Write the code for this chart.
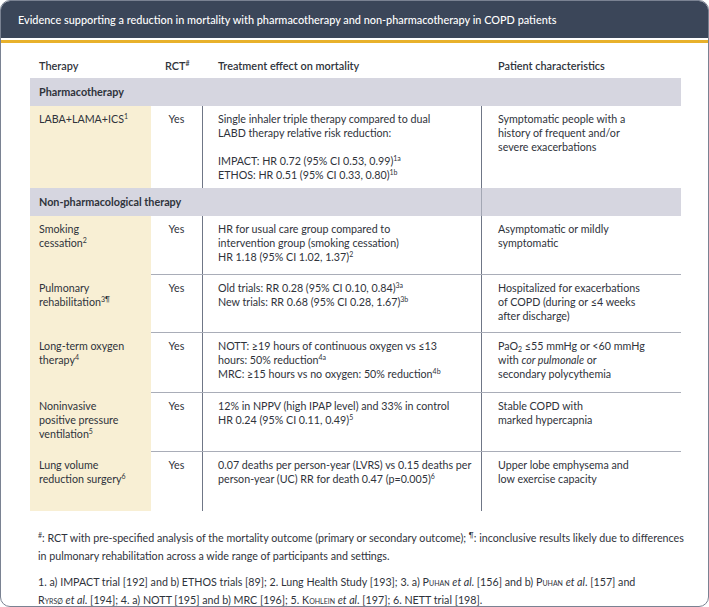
<!DOCTYPE html>
<html>
<head>
<meta charset="utf-8">
<script src="https://cdn.jsdelivr.net/npm/chart.js@4.4.1/dist/chart.umd.min.js"></script>
<style>
  html, body { margin: 0; padding: 0; background: #fff; }
  body { width: 709px; height: 607px; font-family: "Lato", "Noto Sans", sans-serif; color: #2f333b; }
  #frame { position: absolute; left: 0; top: 0; width: 707px; height: 605px; border: 1px solid #7a8292; border-radius: 10px; overflow: hidden; }
  #head { position: absolute; left: 0; top: 0; width: 100%; height: 37px; background: #3b4659; color: #fff; font-size: 10.9px; font-weight: 500; line-height: 37px; padding-left: 17px; box-sizing: border-box; }
  #gold { position: absolute; left: 0; top: 39px; width: 100%; height: 3px; background: #e8b12b; }
  #tbl { position: absolute; left: 29px; top: 50px; width: 651px; }
  .row { position: relative; width: 651px; }
  .cell { position: absolute; top: 0; box-sizing: border-box; font-size: 10.7px; line-height: 14px; padding-top: 6px; }
  .c0 { left: 0; width: 121px; padding-left: 9px; }
  .c1 { left: 121px; width: 51px; text-align: center; }
  .c2 { left: 172px; width: 279px; padding-left: 16px; }
  .c3 { left: 451px; width: 200px; padding-left: 17px; }
  .hdr .cell { font-weight: 600; font-size: 10.9px; padding-top: 8px; }
  .hdr .c1 { text-align: left; padding-left: 14px; }
  .sec { background: #d6d6e0; font-weight: 700; font-size: 10.8px; line-height: 28px; padding-left: 9px; box-sizing: border-box; }
  .data .c0 { background: #f8efd4; height: 100%; }
  .vl { position: absolute; top: 0; width: 1px; height: 100%; background: #6f7686; }
  .hl { position: absolute; left: 121px; right: 0; bottom: 0; height: 1px; background: #a9adb8; }
  sup { font-size: 7px; line-height: 0; vertical-align: 4px; }
  sub { font-size: 7px; line-height: 0; vertical-align: -2px; }
  .gap { height: 14px; }
  #notes { position: absolute; left: 37px; top: 528px; width: 660px; font-size: 10.7px; line-height: 18px; color: #2f333b; }
  .sc { font-variant: small-caps; }
</style>
</head>
<body>
<div id="frame">
  <div id="head"></div>
  <div id="gold"></div>
  <div id="tbl"></div>
  <div id="notes"></div>
</div>
<script>
// Texto de la tabla
const titulo = 'Evidence supporting a reduction in mortality with pharmacotherapy and non-pharmacotherapy in COPD patients';
const encabezados = ['Therapy', 'RCT<sup>#</sup>', 'Treatment effect on mortality', 'Patient characteristics'];
const secciones = ['Pharmacotherapy', 'Non-pharmacological therapy'];
const terapias = [
  'LABA+LAMA+ICS<sup>1</sup>',
  'Smoking<br>cessation<sup>2</sup>',
  'Pulmonary<br>rehabilitation<sup>3¶</sup>',
  'Long-term oxygen<br>therapy<sup>4</sup>',
  'Noninvasive<br>positive pressure<br>ventilation<sup>5</sup>',
  'Lung volume<br>reduction surgery<sup>6</sup>'
];
const rct = ['Yes', 'Yes', 'Yes', 'Yes', 'Yes', 'Yes'];
const efectos = [
  'Single inhaler triple therapy compared to dual<br>LABD therapy relative risk reduction:<div class="gap"></div>IMPACT: HR 0.72 (95% CI 0.53, 0.99)<sup>1a</sup><br>ETHOS: HR 0.51 (95% CI 0.33, 0.80)<sup>1b</sup>',
  'HR for usual care group compared to<br>intervention group (smoking cessation)<br>HR 1.18 (95% CI 1.02, 1.37)<sup>2</sup>',
  'Old trials: RR 0.28 (95% CI 0.10, 0.84)<sup>3a</sup><br>New trials: RR 0.68 (95% CI 0.28, 1.67)<sup>3b</sup>',
  'NOTT: ≥19 hours of continuous oxygen vs ≤13<br>hours: 50% reduction<sup>4a</sup><br>MRC: ≥15 hours vs no oxygen: 50% reduction<sup>4b</sup>',
  '12% in NPPV (high IPAP level) and 33% in control<br>HR 0.24 (95% CI 0.11, 0.49)<sup>5</sup>',
  '0.07 deaths per person-year (LVRS) vs 0.15 deaths per<br>person-year (UC) RR for death 0.47 (p=0.005)<sup>6</sup>'
];
const pacientes = [
  'Symptomatic people with a<br>history of frequent and/or<br>severe exacerbations',
  'Asymptomatic or mildly<br>symptomatic',
  'Hospitalized for exacerbations<br>of COPD (during or ≤4 weeks<br>after discharge)',
  'PaO<sub>2</sub> ≤55 mmHg or &lt;60 mmHg<br>with <i>cor pulmonale</i> or<br>secondary polycythemia',
  'Stable COPD with<br>marked hypercapnia',
  'Upper lobe emphysema and<br>low exercise capacity'
];
// Sección a la que pertenece cada fila y alto de cada fila
const seccionDeFila = [0, 1, 1, 1, 1, 1];
const altoFila = [82, 59, 58, 60, 59, 59];
const notas = [
  '<sup>#</sup>: RCT with pre-specified analysis of the mortality outcome (primary or secondary outcome); <sup>¶</sup>: inconclusive results likely due to differences<br>in pulmonary rehabilitation across a wide range of participants and settings.',
  '1. a) IMPACT trial [192] and b) ETHOS trials [89]; 2. Lung Health Study [193]; 3. a) <span class="sc">Puhan</span> <i>et al</i>. [156] and b) <span class="sc">Puhan</span> <i>et al</i>. [157] and<br><span class="sc">Ryrsø</span> <i>et al</i>. [194]; 4. a) NOTT [195] and b) MRC [196]; 5. <span class="sc">Kohlein</span> <i>et al</i>. [197]; 6. NETT trial [198].'
];

document.getElementById('head').textContent = titulo;

const tbl = document.getElementById('tbl');
// Fila de encabezados
const hdr = document.createElement('div');
hdr.className = 'row hdr';
hdr.style.height = '27px';
encabezados.forEach((t, i) => {
  const c = document.createElement('div');
  c.className = 'cell c' + i;
  c.innerHTML = t;
  hdr.appendChild(c);
});
tbl.appendChild(hdr);

let secActual = -1;
terapias.forEach((t, i) => {
  if (seccionDeFila[i] !== secActual) {
    secActual = seccionDeFila[i];
    const s = document.createElement('div');
    s.className = 'row sec';
    s.style.height = '28px';
    s.textContent = secciones[secActual];
    // la línea de la última columna atraviesa la banda de la segunda sección
    if (i > 0) {
      const v = document.createElement('div');
      v.className = 'vl';
      v.style.left = '451px';
      v.style.background = '#a3a7b4';
      s.appendChild(v);
    }
    tbl.appendChild(s);
  }
  const r = document.createElement('div');
  r.className = 'row data';
  r.style.height = altoFila[i] + 'px';
  [t, rct[i], efectos[i], pacientes[i]].forEach((txt, j) => {
    const c = document.createElement('div');
    c.className = 'cell c' + j;
    c.innerHTML = txt;
    r.appendChild(c);
  });
  // Líneas verticales y separador
  [172, 451].forEach(x => {
    const v = document.createElement('div');
    v.className = 'vl';
    v.style.left = x + 'px';
    r.appendChild(v);
  });
  const nextSec = seccionDeFila[i + 1];
  if (i < terapias.length - 1 && nextSec === seccionDeFila[i]) {
    const h = document.createElement('div');
    h.className = 'hl';
    r.appendChild(h);
  }
  tbl.appendChild(r);
});

const notasEl = document.getElementById('notes');
notasEl.innerHTML = notas.join('<div style="height:8px"></div>');
</script>
</body>
</html>
